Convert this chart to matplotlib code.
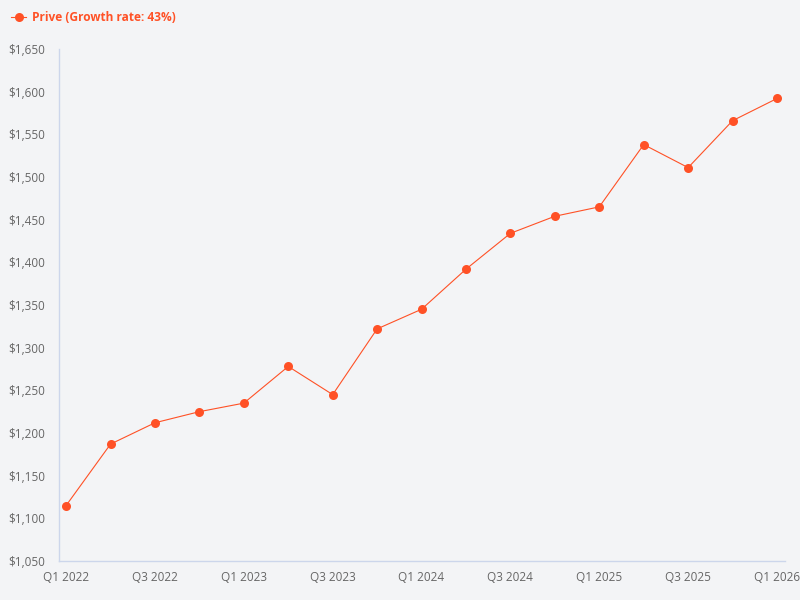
import numpy as np
import matplotlib.pyplot as plt
from matplotlib.ticker import FuncFormatter

plt.rcParams['font.family'] = ['Open Sans', 'DejaVu Sans']

quarters = ['Q1 2022', 'Q2 2022', 'Q3 2022', 'Q4 2022',
            'Q1 2023', 'Q2 2023', 'Q3 2023', 'Q4 2023',
            'Q1 2024', 'Q2 2024', 'Q3 2024', 'Q4 2024',
            'Q1 2025', 'Q2 2025', 'Q3 2025', 'Q4 2025',
            'Q1 2026']
prive = [1115, 1187, 1212, 1225, 1235, 1278, 1245, 1322, 1345,
         1392, 1434, 1454, 1465, 1538, 1511, 1566, 1592]
yticks = [1050, 1100, 1150, 1200, 1250, 1300, 1350, 1400, 1450,
          1500, 1550, 1600, 1650]

bg = '#f3f4f6'
col = '#ff5126'
txt = '#666666'

fig = plt.figure(figsize=(8, 6), dpi=100, facecolor=bg)
ax = fig.add_axes([59/800, 1 - 561/600, 726/800, 512/600], facecolor=bg)

x = np.arange(len(quarters))
ax.plot(x, prive, color=col, lw=0.8, marker='o', ms=6.5,
        markeredgewidth=0, label='Prive (Growth rate: 43%)')

ax.set_xlim(-0.16, 16.18)
ax.set_ylim(1050, 1650)
ax.set_yticks(yticks)
ax.yaxis.set_major_formatter(FuncFormatter(lambda v, p: '${:,.0f}'.format(v)))
ax.set_xticks(x[::2])
ax.set_xticklabels(quarters[::2])

for s in ['top', 'right']:
    ax.spines[s].set_visible(False)
for s in ['left', 'bottom']:
    ax.spines[s].set_color('#ccd6eb')
    ax.spines[s].set_linewidth(1)
ax.tick_params(length=0, labelsize=8.5, labelcolor=txt)
ax.tick_params(axis='y', pad=10)
ax.tick_params(axis='x', pad=7)

leg = fig.legend(loc='upper left', bbox_to_anchor=(0.0, 1.0), frameon=False,
                 handlelength=1.3, handletextpad=0.5, fontsize=8.6,
                 borderaxespad=0.5)
for t in leg.get_texts():
    t.set_color(col)
    t.set_fontweight('bold')

fig.savefig('out.png', dpi=100, facecolor=bg)
